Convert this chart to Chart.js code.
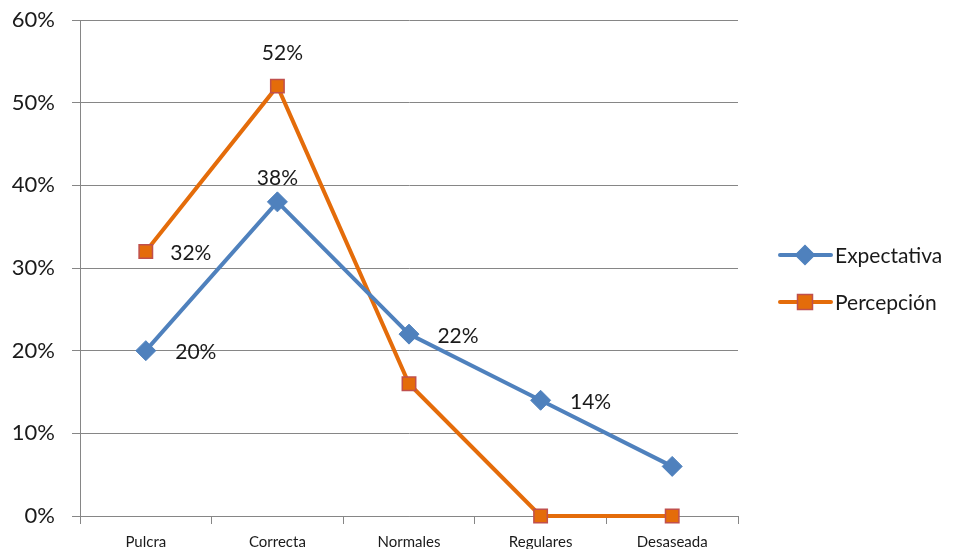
<!DOCTYPE html>
<html>
<head>
<meta charset="utf-8">
<script src="https://cdn.jsdelivr.net/npm/chart.js@4.4.1/dist/chart.umd.min.js"></script>
<style>
  html,body{margin:0;padding:0;background:#fff;}
  #wrap{width:962px;height:549px;position:relative;}
</style>
</head>
<body>
<div id="wrap"><canvas id="c" width="962" height="549"></canvas></div>
<script>
const categories = ['Pulcra', 'Correcta', 'Normales', 'Regulares', 'Desaseada'];
const expectativa = [20, 38, 22, 14, 6];
const percepcion = [32, 52, 16, 0, 0];
const yTicks = [0, 10, 20, 30, 40, 50, 60];
const seriesNames = ['Expectativa', 'Percepción'];

// which points show a value label, and where (style only)
const labelPlacement = {
  0: {0: [50, 2], 1: [0, -24], 2: [49, 2], 3: [50, 2]},
  1: {0: [45, 2], 1: [5, -33]}
};

const FONT = 'Lato, "Open Sans", sans-serif';
const BLUE = '#4F81BD';
const ORANGE = '#E46C0A';
const ORANGE_BORDER = '#C0504D';

const valueLabels = {
  id: 'valueLabels',
  afterDatasetsDraw(chart) {
    const ctx = chart.ctx;
    ctx.save();
    ctx.font = '21px ' + FONT;
    ctx.fillStyle = '#1a1a1a';
    ctx.textAlign = 'center';
    ctx.textBaseline = 'middle';
    chart.data.datasets.forEach((ds, di) => {
      const meta = chart.getDatasetMeta(di);
      const pl = labelPlacement[di] || {};
      Object.keys(pl).forEach(k => {
        const i = +k;
        const pt = meta.data[i];
        const [dx, dy] = pl[k];
        ctx.fillText(ds.data[i] + '%', pt.x + dx, pt.y + dy);
      });
    });
    ctx.restore();
  }
};

const customLegend = {
  id: 'customLegend',
  afterDraw(chart) {
    const ctx = chart.ctx;
    ctx.save();
    const items = [
      {name: seriesNames[0], color: BLUE, style: 'rectRot', border: BLUE, r: 9.5},
      {name: seriesNames[1], color: ORANGE, style: 'rect', border: ORANGE_BORDER, r: 7.5}
    ];
    items.forEach((it, i) => {
      const y = 255 + i * 47;
      ctx.strokeStyle = it.color;
      ctx.lineWidth = 4;
      ctx.lineCap = 'round';
      ctx.beginPath();
      ctx.moveTo(780, y);
      ctx.lineTo(831, y);
      ctx.stroke();
      ctx.fillStyle = it.color;
      ctx.strokeStyle = it.border;
      ctx.lineWidth = 1.5;
      ctx.beginPath();
      if (it.style === 'rectRot') {
        ctx.moveTo(805 - it.r, y); ctx.lineTo(805, y - it.r); ctx.lineTo(805 + it.r, y); ctx.lineTo(805, y + it.r);
      } else {
        ctx.rect(805 - it.r, y - it.r, 2 * it.r, 2 * it.r);
      }
      ctx.closePath();
      ctx.fill();
      ctx.stroke();
      ctx.fillStyle = '#1a1a1a';
      ctx.font = '21px ' + FONT;
      ctx.textAlign = 'left';
      ctx.textBaseline = 'middle';
      ctx.fillText(it.name, 835, y + 1);
    });
    ctx.restore();
  }
};

new Chart(document.getElementById('c'), {
  type: 'line',
  data: {
    labels: categories,
    datasets: [
      {
        label: seriesNames[0],
        data: expectativa,
        borderColor: BLUE,
        backgroundColor: BLUE,
        pointBackgroundColor: BLUE,
        pointBorderColor: BLUE,
        borderWidth: 4,
        pointStyle: 'rectRot',
        pointRadius: 10,
        pointBorderWidth: 1,
        tension: 0,
        clip: false
      },
      {
        label: seriesNames[1],
        data: percepcion,
        borderColor: ORANGE,
        backgroundColor: ORANGE,
        pointBackgroundColor: ORANGE,
        pointBorderColor: ORANGE_BORDER,
        borderWidth: 4,
        pointStyle: 'rect',
        pointRadius: 9.5,
        pointBorderWidth: 1.5,
        tension: 0,
        clip: false
      }
    ]
  },
  options: {
    responsive: false,
    animation: false,
    layout: {padding: {top: 20, right: 224, bottom: 0, left: 0}},
    plugins: {legend: {display: false}, tooltip: {enabled: false}},
    scales: {
      x: {
        offset: true,
        grid: {display: true, drawOnChartArea: false, drawTicks: true, tickLength: 8, offset: true, color: '#868686'},
        border: {display: true, color: '#868686'},
        ticks: {font: {family: FONT, size: 15}, color: '#1a1a1a', padding: 9, maxRotation: 0},
        afterFit(s) { s.height = 33; s.paddingLeft = 0; s.paddingRight = 0; }
      },
      y: {
        min: 0, max: 60,
        afterBuildTicks(s) { s.ticks = yTicks.map(v => ({value: v})); },
        grid: {color: '#868686', tickLength: 8, drawTicks: true},
        border: {display: true, color: '#868686'},
        ticks: {font: {family: FONT, size: 22}, color: '#1a1a1a', padding: 17, callback: v => v + '%'},
        afterFit(s) { s.width = 80; s.paddingTop = 0; s.paddingBottom = 0; }
      }
    }
  },
  plugins: [valueLabels, customLegend]
});
</script>
</body>
</html>
